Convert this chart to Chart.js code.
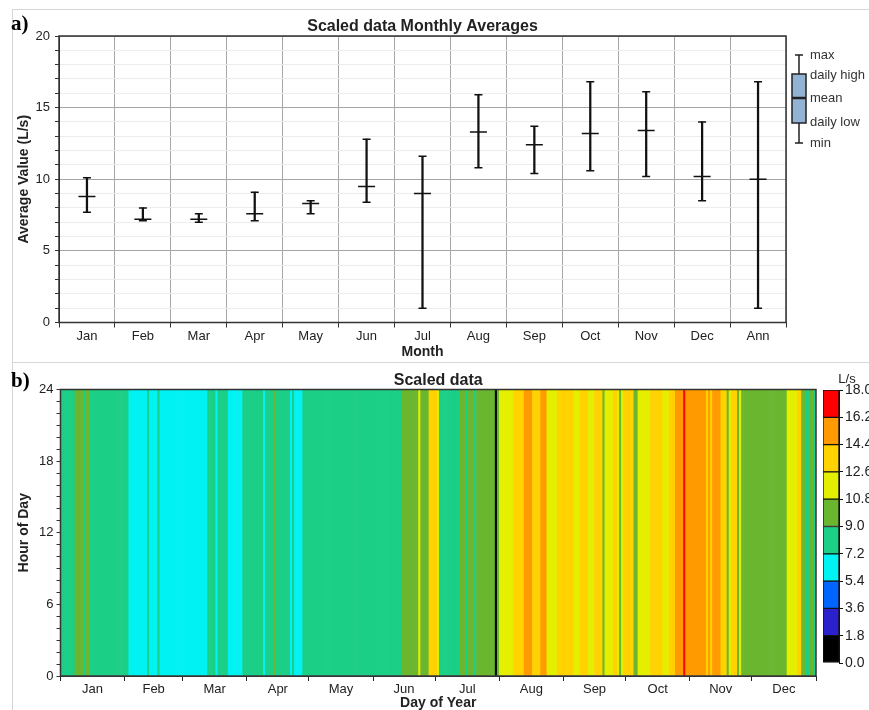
<!DOCTYPE html>
<html>
<head>
<meta charset="utf-8">
<script src="https://cdn.jsdelivr.net/npm/chart.js@4.4.1/dist/chart.umd.min.js"></script>
<style>
  html, body { margin: 0; padding: 0; background: #fff; overflow: hidden; width: 869px; height: 710px; }
  #wrap { position: relative; width: 869px; height: 710px; }
  canvas { position: absolute; }
  .frame { position: absolute; border-left: 1px solid #d6d6d6; border-top: 1px solid #d6d6d6; }
  .tag { position: absolute; font: bold 21px "Liberation Serif", "Times New Roman", serif; color: #000; }
</style>
</head>
<body>
<div id="wrap">
  <div class="frame" style="left:12px; top:9px; width:857px; height:352px"></div>
  <div class="frame" style="left:12px; top:362px; width:857px; height:348px"></div>
  <canvas id="monthly" width="869" height="362" style="left:0; top:0"></canvas>
  <canvas id="heatmap" width="869" height="348" style="left:0; top:362px"></canvas>
  <canvas id="colorbar" width="100" height="348" style="left:810px; top:362px"></canvas>
  <div class="tag" style="left:11px; top:11px">a)</div>
  <div class="tag" style="left:11px; top:368px">b)</div>
</div>

<script>
Chart.defaults.font.family = '"Liberation Sans", Arial, sans-serif';
Chart.defaults.color = '#222';

// ---- a) monthly averages (min / mean / max per month)
const months    = ["Jan", "Feb", "Mar", "Apr", "May", "Jun", "Jul", "Aug", "Sep", "Oct", "Nov", "Dec", "Ann"];
const monthMax  = [10.1, 8.0, 7.6, 9.1, 8.5, 12.8, 11.6, 15.9, 13.7, 16.8, 16.1, 14.0, 16.8];
const monthMean = [ 8.8, 7.2, 7.2, 7.6, 8.3,  9.5,  9.0, 13.3, 12.4, 13.2, 13.4, 10.2, 10.0];
const monthMin  = [ 7.7, 7.1, 7.0, 7.1, 7.6,  8.4,  1.0, 10.8, 10.4, 10.6, 10.2,  8.5,  1.0];

// ---- b) daily values, read off the strips as runs (run ends at day runEnd[i])
const runEnd = [7, 11, 12, 14, 33, 42, 43, 47, 48, 71, 75, 76, 81, 88, 98, 99, 103, 104, 111, 112,
  113, 117, 165, 173, 174, 178, 182, 183, 193, 196, 197, 200, 201, 210, 211, 212, 219, 224, 228, 232,
  235, 240, 248, 251, 255, 258, 262, 263, 267, 269, 270, 271, 272, 277, 279, 285, 291, 294, 297, 301,
  302, 312, 313, 314, 315, 319, 322, 323, 324, 327, 328, 329, 351, 356, 358, 360, 362, 364, 365];
const runValue = [8.3, 9.6, 8.9, 9.4, 8.2, 6.8, 7.4, 6.9, 7.3, 6.6, 7.6, 7.0, 7.5, 6.5, 7.8, 7.1, 8.0, 9.1, 7.9, 7.1,
  7.5, 6.8, 8.2, 9.8, 11.0, 10.2, 12.8, 11.2, 8.4, 9.3, 8.8, 9.5, 8.9, 9.7, 1.0, 9.6, 11.8, 13.2, 15.0, 13.8,
  14.8, 12.0, 13.4, 12.2, 13.0, 11.9, 13.1, 10.5, 11.5, 12.9, 11.4, 10.3, 11.6, 13.3, 10.1, 11.9, 13.6, 12.1, 14.0, 15.6,
  16.8, 15.4, 14.1, 14.6, 13.9, 15.1, 13.5, 10.6, 11.3, 13.0, 10.4, 11.1, 9.9, 11.7, 12.7, 9.6, 8.6, 9.3, 8.7];

const monthStart = [0, 31, 59, 90, 120, 151, 181, 212, 243, 273, 304, 334, 365];
const binEdges  = [0, 1.8, 3.6, 5.4, 7.2, 9.0, 10.8, 12.6, 14.4, 16.2, 18.0];
const binColors = ["#000000", "#2a20cc", "#0064ff", "#00f2f2", "#1ccf87", "#6ab72f", "#e4ef00", "#ffd200", "#ff9b00", "#ff0000"];

const dailyValue = [];
runEnd.forEach((end, i) => { while (dailyValue.length < end) dailyValue.push(runValue[i]); });
const colorFor = v => binColors[Math.min(binColors.length - 1, Math.floor(v / 1.8))];

const tickFont  = { size: 13 };
const titleFont = { size: 14, weight: 'bold' };

// frame round the plot area + title centred over it
const framePlugin = {
  id: 'frame',
  afterDraw(chart, args, opts) {
    const { ctx, chartArea: a } = chart;
    ctx.save();
    ctx.strokeStyle = '#333';
    ctx.lineWidth = 1.5;
    ctx.strokeRect(a.left, a.top, a.right - a.left, a.bottom - a.top);
    if (opts.text) {
      ctx.fillStyle = '#222';
      ctx.font = 'bold 16px "Liberation Sans", Arial, sans-serif';
      ctx.textAlign = 'center';
      ctx.textBaseline = 'alphabetic';
      ctx.fillText(opts.text, (a.left + a.right) / 2, a.top - 5);
    }
    ctx.restore();
  }
};

// box-plot key on the right of the monthly chart
const boxKeyPlugin = {
  id: 'boxKey',
  afterDraw(chart) {
    const { ctx, chartArea: a } = chart;
    const cx = a.right + 13, top = a.top;
    ctx.save();
    ctx.strokeStyle = '#222';
    ctx.lineWidth = 1.5;
    ctx.beginPath();
    ctx.moveTo(cx, top + 19); ctx.lineTo(cx, top + 107);
    ctx.moveTo(cx - 4, top + 19); ctx.lineTo(cx + 4, top + 19);
    ctx.moveTo(cx - 4, top + 107); ctx.lineTo(cx + 4, top + 107);
    ctx.stroke();
    ctx.fillStyle = '#93b3d4';
    ctx.fillRect(cx - 7, top + 38, 14, 49);
    ctx.strokeRect(cx - 7, top + 38, 14, 49);
    ctx.lineWidth = 2.5;
    ctx.beginPath();
    ctx.moveTo(cx - 7, top + 62); ctx.lineTo(cx + 7, top + 62);
    ctx.stroke();
    ctx.fillStyle = '#333';
    ctx.font = '13px "Liberation Sans", Arial, sans-serif';
    ctx.textAlign = 'left';
    ctx.textBaseline = 'middle';
    [["max", 19], ["daily high", 39], ["mean", 62], ["daily low", 86], ["min", 107]].forEach(([t, y]) => {
      ctx.fillText(t, cx + 11, top + y);
    });
    ctx.restore();
  }
};

const capStyle = (data, r) => ({
  type: 'line',
  data: data,
  showLine: false,
  pointStyle: 'line',
  pointRadius: r,
  pointBorderWidth: 1.5,
  pointBorderColor: '#111',
  borderColor: '#111'
});

const monthlyChart = new Chart(document.getElementById('monthly'), {
  type: 'bar',
  data: {
    labels: months,
    datasets: [
      {
        data: months.map((m, i) => [monthMin[i], monthMax[i]]),
        backgroundColor: '#111',
        barThickness: 1.6
      },
      capStyle(monthMean, 8.5),
      capStyle(monthMax, 4),
      capStyle(monthMin, 4)
    ]
  },
  options: {
    responsive: false,
    animation: false,
    events: [],
    layout: { padding: { left: 0, top: 36, right: 83, bottom: 0 } },
    plugins: {
      legend: { display: false },
      tooltip: { enabled: false },
      frame: { text: 'Scaled data Monthly Averages' }
    },
    scales: {
      x: {
        grid: { offset: true, color: '#a6a6a6', tickLength: 5, tickColor: '#333' },
        border: { color: '#333' },
        ticks: { font: tickFont, padding: 1, maxRotation: 0, autoSkip: false },
        title: { display: true, text: 'Month', font: titleFont, padding: { top: 0, bottom: 1 } },
        afterFit: s => { s.height = 39.5; }
      },
      y: {
        min: 0,
        max: 20,
        ticks: {
          stepSize: 1,
          autoSkip: false,
          font: tickFont,
          padding: 5,
          callback: v => (v % 5 === 0 ? v : '')
        },
        grid: {
          color: c => (c.tick.value % 5 === 0 ? '#a6a6a6' : '#ececec'),
          tickColor: '#333',
          tickLength: 4
        },
        border: { color: '#333' },
        title: { display: true, text: 'Average Value (L/s)', font: titleFont, padding: { top: 16, bottom: 0 } },
        afterFit: s => { s.width = 59; }
      }
    }
  },
  plugins: [framePlugin, boxKeyPlugin]
});

// ---- heatmap: one full-height column per day, coloured by its value
const midMonth = monthStart.slice(0, 12).map((s, i) => (s + monthStart[i + 1]) / 2);

const heatChart = new Chart(document.getElementById('heatmap'), {
  type: 'bar',
  data: {
    datasets: [{
      data: dailyValue.map((v, i) => ({ x: i + 0.5, y: 24 })),
      backgroundColor: dailyValue.map(colorFor),
      borderWidth: 0,
      barPercentage: 1,
      categoryPercentage: 1
    }]
  },
  options: {
    responsive: false,
    animation: false,
    events: [],
    layout: { padding: { left: 0, top: 27.5, right: 53, bottom: 0 } },
    plugins: {
      legend: { display: false },
      tooltip: { enabled: false },
      frame: { text: 'Scaled data' }
    },
    scales: {
      x: {
        type: 'linear',
        min: 0,
        max: 365,
        offset: false,
        afterBuildTicks: s => {
          s.ticks = monthStart.concat(midMonth).sort((a, b) => a - b).map(v => ({ value: v }));
        },
        ticks: {
          autoSkip: false,
          maxRotation: 0,
          font: tickFont,
          padding: 1,
          callback: v => {
            const k = midMonth.indexOf(v);
            return k >= 0 ? months[k] : '';
          }
        },
        grid: {
          offset: false,
          drawOnChartArea: false,
          tickLength: 5,
          tickColor: c => (monthStart.includes(c.tick.value) ? '#222' : 'rgba(0,0,0,0)')
        },
        border: { color: '#333' },
        title: { display: true, text: 'Day of Year', font: titleFont, padding: { top: 0, bottom: -2 } },
        afterFit: s => { s.height = 34; }
      },
      y: {
        min: 0,
        max: 24,
        ticks: {
          stepSize: 1,
          autoSkip: false,
          font: tickFont,
          padding: 3,
          callback: v => (v % 6 === 0 ? v : '')
        },
        grid: { drawOnChartArea: false, tickLength: 4, tickColor: '#333' },
        border: { color: '#111' },
        title: { display: true, text: 'Hour of Day', font: titleFont, padding: { top: 16, bottom: 0 } },
        afterFit: s => { s.width = 60.5; }
      }
    }
  },
  plugins: [framePlugin]
});

// ---- colour scale key
const unitPlugin = {
  id: 'unit',
  afterDraw(chart) {
    const { ctx, chartArea: a } = chart;
    ctx.save();
    ctx.fillStyle = '#222';
    ctx.font = '13px "Liberation Sans", Arial, sans-serif';
    ctx.textAlign = 'center';
    ctx.fillText('L/s', a.right + 8, a.top - 7);
    ctx.restore();
  }
};

const colorbarChart = new Chart(document.getElementById('colorbar'), {
  type: 'bar',
  data: {
    labels: [''],
    datasets: binColors.map((c, i) => ({
      data: [binEdges[i + 1] - binEdges[i]],
      backgroundColor: c,
      borderColor: '#111',
      borderWidth: 1,
      borderSkipped: false,
      barPercentage: 1,
      categoryPercentage: 1
    }))
  },
  options: {
    responsive: false,
    animation: false,
    events: [],
    layout: { padding: { left: 13, top: 28, right: 0, bottom: 47 } },
    plugins: { legend: { display: false }, tooltip: { enabled: false } },
    scales: {
      x: { stacked: true, display: false },
      y: {
        stacked: true,
        position: 'right',
        min: 0,
        max: 18,
        afterBuildTicks: s => { s.ticks = binEdges.map(v => ({ value: v })); },
        ticks: { font: { size: 14 }, padding: 2, callback: v => v.toFixed(1) },
        grid: { drawOnChartArea: false, tickLength: 4, tickColor: '#111' },
        border: { color: '#111' },
        afterFit: s => { s.width = 71; }
      }
    }
  },
  plugins: [unitPlugin]
});
</script>
</body>
</html>
